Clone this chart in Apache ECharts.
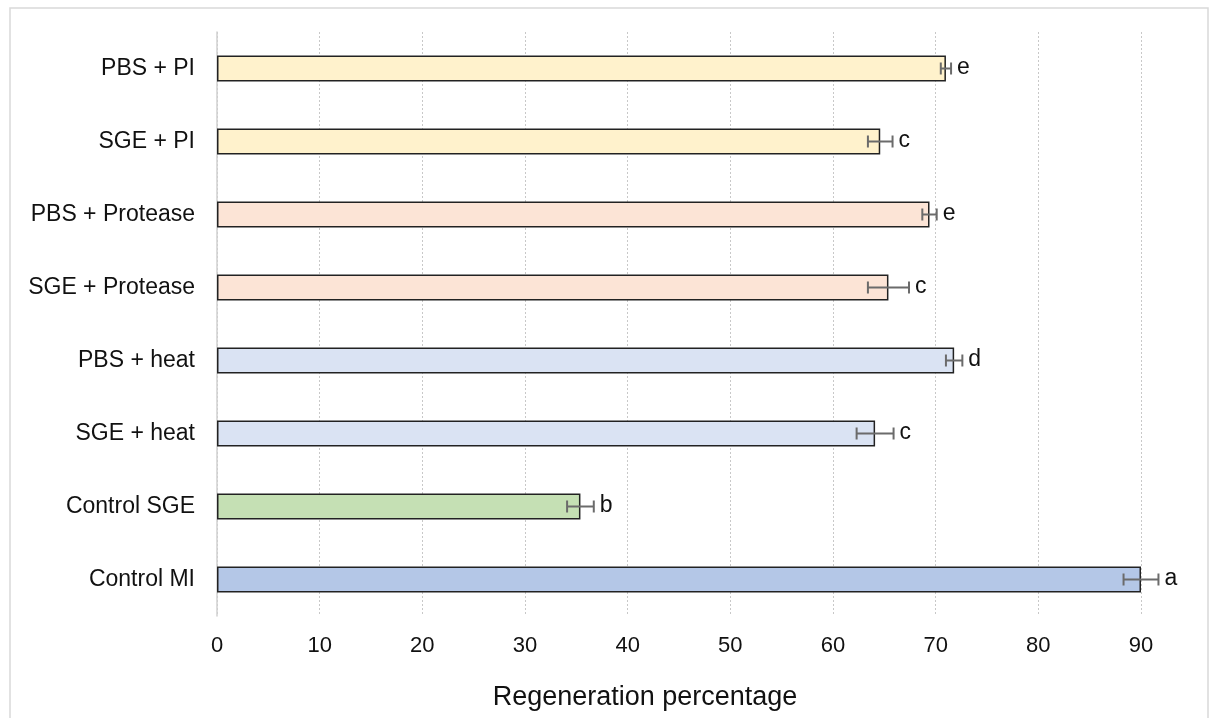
<!DOCTYPE html>
<html>
<head>
<meta charset="utf-8">
<script src="https://cdn.jsdelivr.net/npm/echarts@6/dist/echarts.min.js"></script>
<style>
  html, body { margin: 0; padding: 0; background: #fff; }
  #chart { width: 1210px; height: 718px; }
</style>
</head>
<body>
<div id="chart"></div>
<script>
// categories bottom to top
const groups = ['Control MI', 'Control SGE', 'SGE + heat', 'PBS + heat', 'SGE + Protease', 'PBS + Protease', 'SGE + PI', 'PBS + PI'];
const means = [90.0, 35.4, 64.1, 71.8, 65.4, 69.4, 64.6, 71.0];
const errors = [1.7, 1.3, 1.8, 0.8, 2.0, 0.7, 1.2, 0.5];
const letters = ['a', 'b', 'c', 'd', 'c', 'e', 'c', 'e'];
const barColors = ['#b4c7e7', '#c5e0b4', '#dae3f3', '#dae3f3', '#fce4d6', '#fce4d6', '#fff2cc', '#fff2cc'];
const xTicks = [0, 10, 20, 30, 40, 50, 60, 70, 80, 90];

const chart = echarts.init(document.getElementById('chart'));
const font = 'Liberation Sans, Arial, sans-serif';

const option = {
  animation: false,
  graphic: [{
    type: 'rect',
    shape: { x: 10, y: 8, width: 1198, height: 720 },
    style: { fill: 'none', stroke: '#d9d9d9', lineWidth: 1.5 },
    silent: true
  }],
  grid: { left: 217, right: 69, top: 32, bottom: 102 },
  xAxis: {
    type: 'value',
    min: xTicks[0],
    max: xTicks[xTicks.length - 1],
    interval: 10,
    name: 'Regeneration percentage',
    nameLocation: 'middle',
    nameGap: 68,
    nameTextStyle: { fontFamily: font, fontSize: 27, color: '#111', padding: [0, 68, 0, 0] },
    axisLine: { show: false },
    axisTick: { show: false },
    axisLabel: { fontFamily: font, fontSize: 22, color: '#111', margin: 19 },
    splitLine: { show: true, lineStyle: { color: '#c8c8c8', type: [2, 2], width: 1 } }
  },
  yAxis: {
    type: 'category',
    data: groups,
    axisLine: { show: true, lineStyle: { color: '#d0d0d0', width: 1.5 } },
    axisTick: { show: false },
    axisLabel: { fontFamily: font, fontSize: 23, color: '#111', margin: 22 }
  },
  series: [
    {
      type: 'bar',
      barWidth: 26,
      data: means.map((v, i) => ({
        value: v,
        itemStyle: { color: barColors[i], borderColor: '#222', borderWidth: 1.5 }
      })),
      z: 2
    },
    {
      type: 'custom',
      z: 3,
      data: means.map((v, i) => [v, i, errors[i]]),
      renderItem: function (params, api) {
        const m = api.value(0), c = api.value(1), e = api.value(2);
        const lo = api.coord([m - e, c]);
        const hi = api.coord([m + e, c]);
        const y = lo[1], cap = 6;
        const st = { stroke: '#6b6b6b', lineWidth: 2 };
        return {
          type: 'group',
          children: [
            { type: 'line', shape: { x1: lo[0], y1: y, x2: hi[0], y2: y }, style: st },
            { type: 'line', shape: { x1: lo[0], y1: y - cap, x2: lo[0], y2: y + cap }, style: st },
            { type: 'line', shape: { x1: hi[0], y1: y - cap, x2: hi[0], y2: y + cap }, style: st },
            {
              type: 'text',
              style: {
                text: letters[params.dataIndex],
                x: hi[0] + 6, y: y - 1,
                fill: '#111', font: '23px ' + font,
                verticalAlign: 'middle', align: 'left'
              }
            }
          ]
        };
      }
    }
  ]
};
chart.setOption(option);
</script>
</body>
</html>
